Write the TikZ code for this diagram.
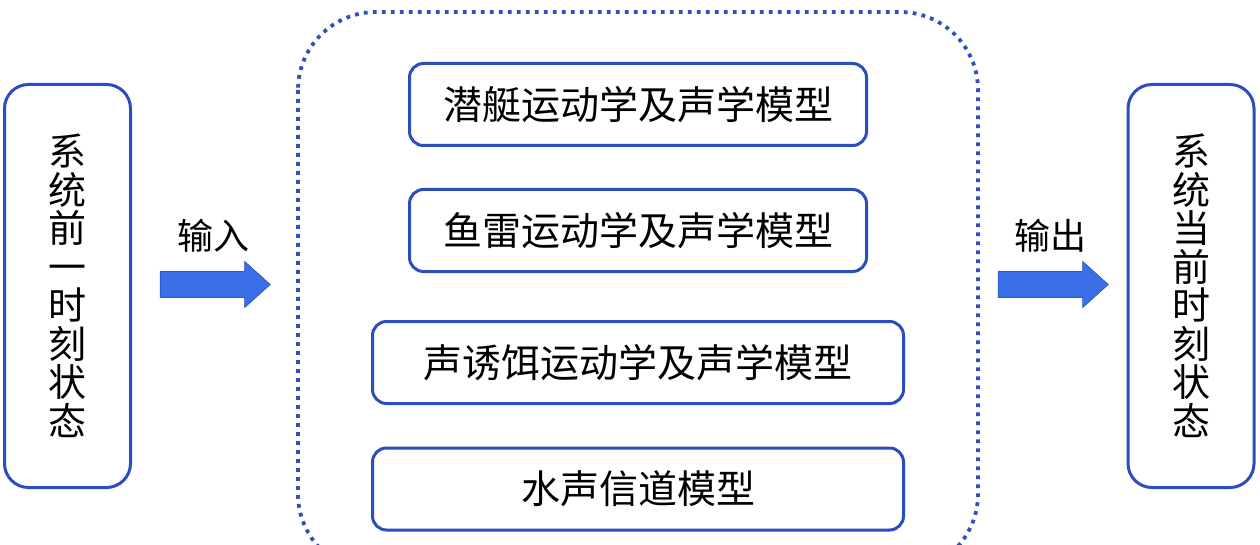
\documentclass[tikz,border=0pt]{standalone}
\usepackage{fontspec}
\setmainfont{Noto Sans CJK SC}
\usetikzlibrary{shapes.arrows}
\definecolor{bd}{HTML}{2B4DC0}
\definecolor{ar}{HTML}{3B6FE8}
\definecolor{ae}{HTML}{2D56C9}
\definecolor{dt}{HTML}{3050C0}
\tikzset{
  modelbox/.style={draw=bd, line width=3pt, rounded corners=14pt, minimum height=82pt, inner sep=0pt, font=\fontsize{39}{40}\selectfont},
  statebox/.style={draw=bd, line width=3pt, rounded corners=24pt, minimum width=126pt, minimum height=403pt, align=center, font=\fontsize{38}{38.5}\selectfont},
  flowarrow/.style={single arrow, fill=ar, draw=ae, line width=0.8pt, minimum height=110pt, single arrow head extend=10pt, single arrow tip angle=84, inner xsep=0pt, inner ysep=12.5pt, text height=0pt, text depth=0pt},
  flowlabel/.style={font=\fontsize{36}{38}\selectfont, inner sep=0pt}
}
\begin{document}
\begin{tikzpicture}[x=1pt, y=-1pt]
  \useasboundingbox (0,0) rectangle (1260,545);
  % enclosing dotted frame
  \draw[dt, line width=3.8pt, dash pattern=on 3.8pt off 5.2pt, rounded corners=78pt] (298,12) rectangle (978,572);

  \node[statebox] (prev) at (67.5,286) {系\\统\\前\\一\\时\\刻\\状\\态};
  \node[statebox] (curr) at (1191,286) {系\\统\\当\\前\\时\\刻\\状\\态};

  \node[modelbox, minimum width=457pt] (sub) at (638,104.5) {潜艇运动学及声学模型};
  \node[modelbox, minimum width=457pt] (torp) at (638,230.5) {鱼雷运动学及声学模型};
  \node[modelbox, minimum width=531pt] (decoy) at (638,362.5) {声诱饵运动学及声学模型};
  \node[modelbox, minimum width=531pt] (chan) at (638,489) {水声信道模型};

  \node[flowarrow] (inarr) at (208,284.5) {};
  \node[flowlabel] (inlab) at (213,236) {输入};
  \node[flowarrow] (outarr) at (1046,284.5) {};
  \node[flowlabel] (outlab) at (1050,236) {输出};
\end{tikzpicture}
\end{document}
